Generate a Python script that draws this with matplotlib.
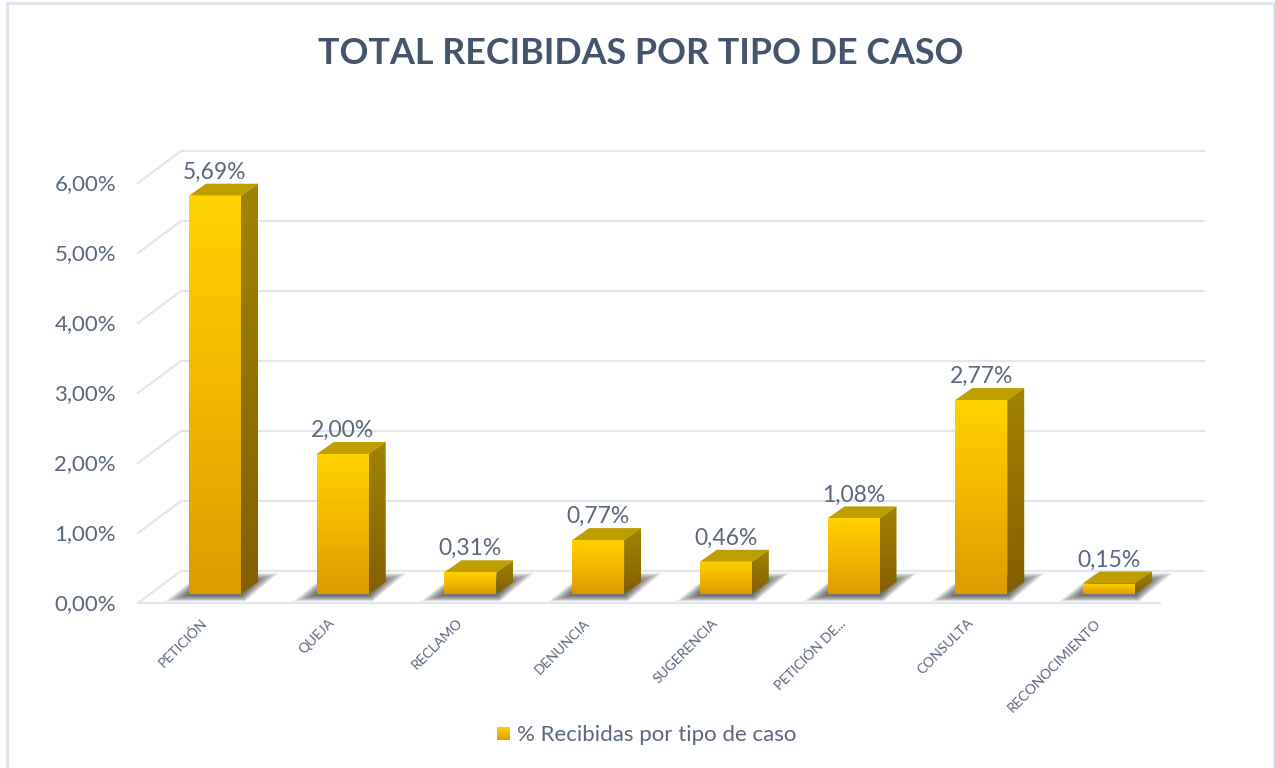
import numpy as np
import matplotlib
matplotlib.use("Agg")
import matplotlib.pyplot as plt
from matplotlib.colors import LinearSegmentedColormap
from matplotlib.lines import Line2D
from matplotlib.patches import Polygon

categories = ["PETICIÓN", "QUEJA", "RECLAMO", "DENUNCIA", "SUGERENCIA",
              "PETICIÓN DE...", "CONSULTA", "RECONOCIMIENTO"]
values = [5.69, 2.00, 0.31, 0.77, 0.46, 1.08, 2.77, 0.15]
value_labels = ["5,69%", "2,00%", "0,31%", "0,77%", "0,46%", "1,08%", "2,77%", "0,15%"]
y_ticks = [0, 1, 2, 3, 4, 5, 6]
y_tick_labels = ["0,00%", "1,00%", "2,00%", "3,00%", "4,00%", "5,00%", "6,00%"]
title = "TOTAL RECIBIDAS POR TIPO DE CASO"
legend_label = "% Recibidas por tipo de caso"

W, H = 1275, 768
X0, Y0 = 215, 594      # pixel of first bar centre / bar base
PX_X, PX_Y = 127.7, 70 # pixels per category / per 1%

plt.rcParams["font.family"] = ["Lato", "DejaVu Sans"]
TEXT = "#5A677C"
GRID = "#E3E6EC"

fig = plt.figure(figsize=(W / 100, H / 100), dpi=100, facecolor="white")
ax = fig.add_axes([0, 0, 1, 1])
ax.set_axis_off()
xlim = (-X0 / PX_X, (W - X0) / PX_X)
ylim = ((Y0 - H) / PX_Y, Y0 / PX_Y)


def dx(px):
    return px / PX_X


def dy(px):
    return px / PX_Y


front_cmap = LinearSegmentedColormap.from_list("front", ["#DB9C00", "#F2B800", "#FFD200"])
side_cmap = LinearSegmentedColormap.from_list("side", ["#825F00", "#A08400"])
grad = np.linspace(1, 0, 64).reshape(-1, 1)


def shade(points, cmap, ext):
    im = ax.imshow(grad, cmap=cmap, aspect="auto", extent=ext, zorder=4, vmin=0, vmax=1)
    im.set_clip_path(Polygon(points, transform=ax.transData))


# grid lines, walls seen from the side
for v in y_ticks:
    back = v + dy(23)
    front = v - dy(9)
    ax.plot([dx(138 - X0), dx(181 - X0), dx(1204 - X0)], [front, back, back],
            color=GRID, lw=1.6, zorder=1, solid_joinstyle="miter")
ax.plot([dx(138 - X0), dx(1160 - X0)], [-dy(9), -dy(9)], color=GRID, lw=1.6, zorder=1)

half = dx(26)
ddx, ddy = dx(17), dy(12)

# soft shadows on the floor
layers = 20
for i in range(len(values)):
    left, right = i - half, i + half
    for k in range(layers):
        s = k / (layers - 1)
        low = -dy(7.5 - 6 * s)
        high = dy(21 - 8 * s)
        pts = [(left - dx(24 - 22 * s), low),
               (right + dx(4 - 3 * s), low),
               (right + dx(38 - 24 * s), high),
               (left + dx(12), high)]
        ax.add_patch(Polygon(pts, closed=True, fc="#333333", ec="none", alpha=0.05, zorder=2))

# 3D bars
for i, v in enumerate(values):
    left, right = i - half, i + half
    ax.add_patch(Polygon([(left, v), (right, v), (right + ddx, v + ddy), (left + ddx, v + ddy)],
                         closed=True, fc="#BF9F00", ec="none", zorder=4))
    shade([(right, 0), (right + ddx, ddy), (right + ddx, v + ddy), (right, v)],
          side_cmap, (right, right + ddx, 0, v + ddy))
    shade([(left, 0), (right, 0), (right, v), (left, v)],
          front_cmap, (left, right, 0, v))
    ax.text(i, v + ddy + dy(11.5), value_labels[i], ha="center", va="center",
            fontsize=16.5, color=TEXT, zorder=6)
    ax.text(i - dx(10), -dy(27), categories[i], rotation=45, rotation_mode="anchor",
            ha="right", va="center", fontsize=10, color=TEXT, zorder=6)

for v, lab in zip(y_ticks, y_tick_labels):
    ax.text(dx(116 - X0), v - dy(10.5), lab, ha="right", va="center", fontsize=16, color=TEXT)

ax.text(dx(641 - X0), dy(Y0 - 53), title, ha="center", va="center",
        fontsize=25.8, fontweight="bold", color="#44546A")

# legend
ax.imshow(grad, cmap=front_cmap, aspect="auto", zorder=4, vmin=0, vmax=1,
          extent=(dx(497 - X0), dx(510 - X0), dy(Y0 - 740), dy(Y0 - 727)))
ax.text(dx(517 - X0), dy(Y0 - 735), legend_label, ha="left", va="center",
        fontsize=16, color=TEXT)

ax.set_xlim(xlim)
ax.set_ylim(ylim)

# chart border, open at the bottom
fig.add_artist(Line2D([7 / W, 7 / W, 1273.5 / W, 1273.5 / W], [0, 1 - 3 / H, 1 - 3 / H, 0],
                      transform=fig.transFigure, color="#E0E4EC", lw=2.2,
                      solid_joinstyle="miter"))

fig.savefig("out.png", dpi=100)
